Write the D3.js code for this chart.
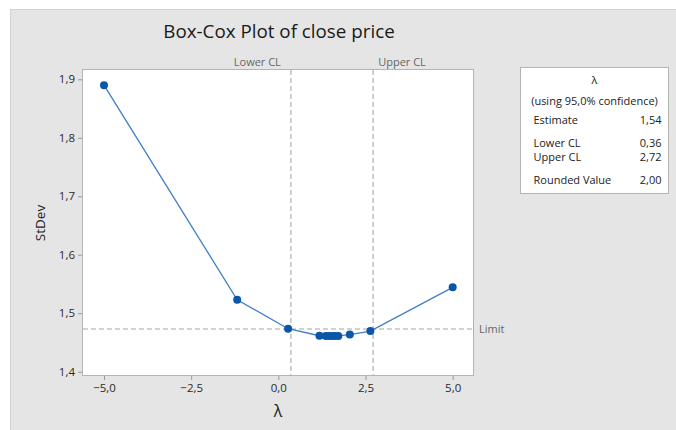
<!DOCTYPE html>
<html>
<head>
<meta charset="utf-8">
<script src="https://cdn.jsdelivr.net/npm/d3@7"></script>
<style>
  html, body { margin: 0; padding: 0; background: #ffffff; }
  svg { display: block; }
  text { font-family: "Open Sans", "Noto Sans", sans-serif; }
</style>
</head>
<body>
<script>
// Box-Cox search: lambda values evaluated and the resulting standard deviation
const lambdas = [-5, -1.18, 0.28, 1.18, 1.36, 1.45, 1.54, 1.62, 1.72, 2.05, 2.64, 5];
const stdevs  = [1.890, 1.523, 1.4735, 1.4615, 1.461, 1.461, 1.461, 1.461, 1.4612, 1.4635, 1.4695, 1.5443];

const xTicks = [-5, -2.5, 0, 2.5, 5];
const yTicks = [1.4, 1.5, 1.6, 1.7, 1.8, 1.9];

const lowerCL = 0.36;
const upperCL = 2.72;
const limitStDev = 1.473;

const tableRows = [
  ["Estimate", "1,54"],
  ["Lower CL", "0,36"],
  ["Upper CL", "2,72"],
  ["Rounded Value", "2,00"]
];

const W = 676, H = 430;
const plot = { left: 82, top: 69, right: 473, bottom: 375 };

const fmt = d3.format(".1f");
const comma = v => fmt(v).replace(".", ",");

const svg = d3.select("body").append("svg")
  .attr("width", W).attr("height", H);

// page background
svg.append("rect")
  .attr("x", 10.5).attr("y", 9.5)
  .attr("width", W - 10).attr("height", H - 9)
  .attr("fill", "#e5e5e5").attr("stroke", "#d2d2d2");

// title
svg.append("text")
  .attr("x", 279).attr("y", 38)
  .attr("text-anchor", "middle")
  .attr("font-size", 18.8)
  .attr("fill", "#1a1a1a")
  .text("Box-Cox Plot of close price");

const x = d3.scaleLinear().domain([-5.631, 5.583]).range([plot.left, plot.right]);
const y = d3.scaleLinear().domain([1.3944, 1.9176]).range([plot.bottom, plot.top]);

// plot area
svg.append("rect")
  .attr("x", plot.left + 0.5).attr("y", plot.top + 0.5)
  .attr("width", plot.right - plot.left).attr("height", plot.bottom - plot.top)
  .attr("fill", "#ffffff").attr("stroke", "#b4b4b4");

// axes
const xAxis = svg.append("g")
  .attr("transform", `translate(0,${plot.bottom + 1})`)
  .call(d3.axisBottom(x).tickValues(xTicks).tickSize(4).tickPadding(4).tickFormat(comma));
const yAxis = svg.append("g")
  .attr("transform", `translate(${plot.left},0)`)
  .call(d3.axisLeft(y).tickValues(yTicks).tickSize(4).tickPadding(3).tickFormat(comma));

[xAxis, yAxis].forEach(g => {
  g.select(".domain").remove();
  g.selectAll(".tick line").attr("stroke", "#9a9a9a");
  g.selectAll(".tick text")
    .attr("fill", "#2a2a2a")
    .attr("font-size", 11.5)
    .attr("font-family", "'Open Sans', 'Noto Sans', sans-serif");
});

// axis titles
svg.append("text")
  .attr("x", 278).attr("y", 417)
  .attr("text-anchor", "middle")
  .attr("font-size", 16)
  .attr("fill", "#222222")
  .text("λ");

svg.append("text")
  .attr("transform", `translate(45,223) rotate(-90)`)
  .attr("text-anchor", "middle")
  .attr("font-size", 13.5)
  .attr("fill", "#222222")
  .text("StDev");

// reference lines
const refStyle = sel => sel
  .attr("stroke", "#c4c4c4")
  .attr("stroke-width", 1.6)
  .attr("stroke-dasharray", "5,3");

svg.append("line")
  .attr("x1", x(lowerCL)).attr("x2", x(lowerCL))
  .attr("y1", plot.top + 1).attr("y2", plot.bottom)
  .call(refStyle);
svg.append("line")
  .attr("x1", x(upperCL)).attr("x2", x(upperCL))
  .attr("y1", plot.top + 1).attr("y2", plot.bottom)
  .call(refStyle);
svg.append("line")
  .attr("x1", plot.left + 1).attr("x2", plot.right)
  .attr("y1", y(limitStDev)).attr("y2", y(limitStDev))
  .call(refStyle);

svg.append("text")
  .attr("x", x(lowerCL) - 10).attr("y", 66)
  .attr("text-anchor", "end")
  .attr("font-size", 11)
  .attr("fill", "#666666")
  .text("Lower CL");
svg.append("text")
  .attr("x", x(upperCL) + 5).attr("y", 66)
  .attr("text-anchor", "start")
  .attr("font-size", 11)
  .attr("fill", "#666666")
  .text("Upper CL");
svg.append("text")
  .attr("x", plot.right + 6).attr("y", y(limitStDev) + 4)
  .attr("text-anchor", "start")
  .attr("font-size", 11)
  .attr("fill", "#666666")
  .text("Limit");

// curve and evaluated points
const pts = lambdas.map((l, i) => ({ l, s: stdevs[i] }));
svg.append("path")
  .datum(pts)
  .attr("fill", "none")
  .attr("stroke", "#3f7fc6")
  .attr("stroke-width", 1.3)
  .attr("d", d3.line().x(d => x(d.l)).y(d => y(d.s)));

svg.append("g").selectAll("circle")
  .data(pts)
  .join("circle")
  .attr("cx", d => x(d.l))
  .attr("cy", d => y(d.s))
  .attr("r", 4)
  .attr("fill", "#0a56a8");

// summary box
const box = { x: 520.5, y: 67.5, w: 148, h: 126 };
svg.append("rect")
  .attr("x", box.x).attr("y", box.y)
  .attr("width", box.w).attr("height", box.h)
  .attr("fill", "#ffffff").attr("stroke", "#b4b4b4");

svg.append("text")
  .attr("x", box.x + box.w / 2).attr("y", 84)
  .attr("text-anchor", "middle")
  .attr("font-size", 11)
  .attr("fill", "#222222")
  .text("λ");
svg.append("text")
  .attr("x", box.x + box.w / 2).attr("y", 105)
  .attr("text-anchor", "middle")
  .attr("font-size", 11)
  .attr("fill", "#222222")
  .text("(using 95,0% confidence)");

const rowY = [124, 147, 161, 184];
tableRows.forEach((r, i) => {
  svg.append("text")
    .attr("x", box.x + 13).attr("y", rowY[i])
    .attr("font-size", 11)
    .attr("fill", "#222222")
    .text(r[0]);
  svg.append("text")
    .attr("x", box.x + box.w - 7).attr("y", rowY[i])
    .attr("text-anchor", "end")
    .attr("font-size", 11)
    .attr("fill", "#222222")
    .text(r[1]);
});
</script>
</body>
</html>
